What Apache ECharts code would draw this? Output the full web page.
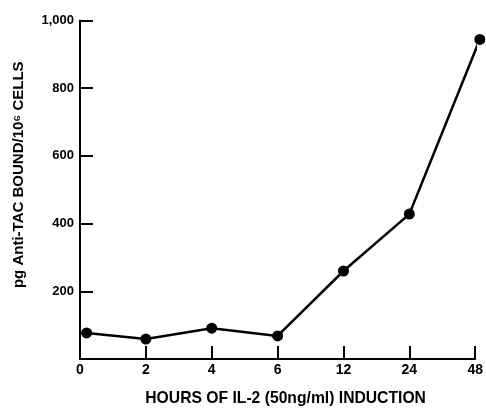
<!DOCTYPE html>
<html><head><meta charset="utf-8">
<script src="https://cdn.jsdelivr.net/npm/echarts@6/dist/echarts.min.js"></script>
<style>html,body{margin:0;padding:0;background:#fff}#c{width:486px;height:412px}</style>
</head><body><div id="c"></div>
<script>
const xLabels = ['0','2','4','6','12','24','48'];
const xPos = [0.1, 1, 2, 3, 4, 5, 6.07];
const yVals = [77, 59, 91, 68, 260, 428, 944];
const yTicks = [0, 200, 400, 600, 800, 1000];

const FONT = "'Liberation Sans', Arial, sans-serif";
const chart = echarts.init(document.getElementById('c'));
chart.setOption({
  animation: false,
  backgroundColor: '#fff',
  grid: {left: 80, right: 5, top: 20.5, bottom: 53, containLabel: false},
  xAxis: {
    type: 'value', min: 0, max: 6, interval: 1,
    name: 'HOURS OF IL-2 (50ng/ml) INDUCTION', nameLocation: 'middle', nameGap: 32,
    nameTextStyle: {color: '#000', fontFamily: FONT, fontSize: 15.7, fontWeight: 'bold', padding: [0, 0, 0, 16]},
    axisLine: {show: true, lineStyle: {color: '#000', width: 2}},
    axisTick: {show: true, inside: true, length: 13, lineStyle: {color: '#000', width: 2}},
    axisLabel: {color: '#000', fontFamily: FONT, fontSize: 14, fontWeight: 'bold', margin: 4,
      formatter: v => xLabels[Math.round(v)] ?? ''},
    splitLine: {show: false}
  },
  yAxis: {
    type: 'value', min: 0, max: 1000, interval: 200,
    name: 'pg Anti-TAC BOUND/10⁶ CELLS', nameLocation: 'middle', nameGap: 54, nameRotate: 90,
    nameTextStyle: {color: '#000', fontFamily: FONT, fontSize: 15, fontWeight: 'bold', padding: [0, 0, 0, 30]},
    axisLine: {show: true, lineStyle: {color: '#000', width: 2}},
    axisTick: {show: true, inside: true, length: 13, lineStyle: {color: '#000', width: 2}},
    axisLabel: {color: '#000', fontFamily: FONT, fontSize: 13, fontWeight: 'bold', margin: 6,
      formatter: v => v === 0 ? '' : (v >= 1000 ? v.toLocaleString('en-US') : String(v))},
    splitLine: {show: false}
  },
  series: [{
    type: 'line',
    data: xPos.map((x, i) => [x, yVals[i]]),
    symbol: 'circle', symbolSize: 11,
    lineStyle: {color: '#000', width: 2.5},
    itemStyle: {color: '#000'},
    clip: false
  }]
});
</script></body></html>
